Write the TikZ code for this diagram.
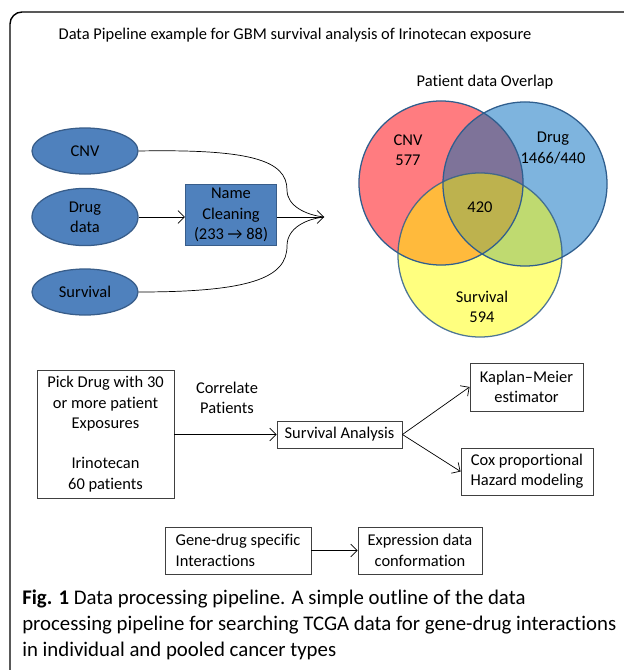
\documentclass[tikz,border=0pt]{standalone}
\usepackage{fontspec}
\setmainfont{Carlito}[Ligatures={NoCommon}]
\usepackage{xcolor}
\usetikzlibrary{positioning,arrows.meta,shapes.geometric}

\definecolor{obl}{HTML}{4F81BD}
\definecolor{obd}{HTML}{385D8A}
\definecolor{vred}{HTML}{FF7C80}
\definecolor{vblu}{HTML}{7EB4DE}
\definecolor{vyel}{HTML}{FFFF7F}
\definecolor{vpur}{HTML}{7E7399}
\definecolor{vora}{HTML}{FFBA3C}
\definecolor{vgrn}{HTML}{BFDA70}
\definecolor{voli}{HTML}{BDB24E}
\definecolor{vrim}{HTML}{2F5E8E}

\begin{document}
\begin{tikzpicture}[x=0.025cm, y=-0.025cm,
  font=\fontsize{11.7}{14.5}\selectfont, >={Straight Barb[length=1.6mm]},
  e/.style={ellipse, draw=obd, fill=obl, line width=0.9pt, minimum width=2.65cm, minimum height=1.15cm},
  b/.style={draw=black!75, line width=0.6pt, inner sep=2pt, align=center},
  a/.style={->, line width=0.5pt},
  l/.style={align=center}]
\useasboundingbox (0,0) rectangle (624,670);
\clip (0,0) rectangle (624,670);
\draw[line width=1pt, rounded corners=0.3cm] (10,12) rectangle (680,720);

\node (ttl) at (295,35) {Data Pipeline example for GBM survival analysis of Irinotecan exposure};

% left: inputs
\node[e] (cnv) at (85,151) {CNV};
\node[e, l] (dd) at (85,217) {Drug\\data};
\node[e] (sv) at (85,292) {Survival};
\node[draw=obd, fill=obl, line width=0.9pt, l, minimum width=2.275cm, minimum height=1.525cm, inner sep=1pt] (nc) at (231,215) {Name\\Cleaning\\(233 \char"2192{} 88)};
\coordinate (mg) at (324,217);
\draw[a] (dd) -- (dd -| nc.west);
\draw[a] (nc.east |- mg) -- (mg);
\draw[line width=0.5pt] (cnv.east) .. controls (250,149) and (287,160) .. (287,190) .. controls (287,206) and (306,215) .. (mg);
\draw[line width=0.5pt] (sv.east) .. controls (250,292) and (287,278) .. (287,246) .. controls (287,228) and (306,219) .. (mg);

% right: overlap
\node (vt) at (485,82) {Patient data Overlap};
\coordinate (vc) at (441,183); \coordinate (vd) at (525,184); \coordinate (vs) at (480,255);
\fill[vred] (vc) circle (2.05cm);
\fill[vblu] (vd) circle (2.05cm);
\fill[vyel] (vs) circle (2.05cm);
\begin{scope}
\clip (vd) circle (2.05cm); \fill[vgrn] (vs) circle (2.05cm);
\end{scope}
\begin{scope}
\clip (vc) circle (2.05cm); \fill[vpur] (vd) circle (2.05cm); \fill[vora] (vs) circle (2.05cm);
\clip (vd) circle (2.05cm); \fill[voli] (vs) circle (2.05cm);
\end{scope}
\draw[vrim, line width=0.9pt] (vc) circle (2.05cm) (vd) circle (2.05cm);
\draw[vrim, line width=0.9pt, draw opacity=0.85] (vs) circle (2.05cm);
\node[l] (vcn) at (408,150) {CNV\\577};
\node[l] (vdn) at (553,148) {Drug\\1466/440};
\node (vall) at (480,207) {420};
\node[l] (vsn) at (482,307) {Survival\\594};

% bottom: analysis
\node[b, minimum width=3.425cm, minimum height=3.2cm] (pk) at (105.5,434) {Pick Drug with 30\\or more patient\\Exposures\\[14pt]Irinotecan\\60 patients};
\node[l] (cp) at (227,398) {Correlate\\Patients};
\node[b, minimum width=3.125cm, minimum height=0.675cm] (sa) at (339.5,434.5) {Survival Analysis};
\node[b, minimum width=2.825cm, minimum height=1.2cm] (km) at (526.5,387) {Kaplan\char"2013{}Meier\\estimator};
\node[b, minimum width=3.3cm, minimum height=1.175cm] (cx) at (527,471.5) {Cox proportional\\Hazard modeling};
\draw[a] (pk.east |- sa) -- (sa);
\draw[a] (sa.east) -- (km.west);
\draw[a] (sa.east) -- (cx.west);

\node[b, align=left, minimum width=3.65cm, minimum height=1.175cm] (gd) at (238,550.5) {Gene-drug specific\\Interactions};
\node[b, minimum width=3.1cm, minimum height=1.175cm] (ex) at (420,550.5) {Expression data\\conformation};
\draw[a] (gd) -- (ex);

\node[anchor=north west, align=left, inner sep=0pt, font=\fontsize{14.8}{18.5}\selectfont] (cap) at (22,590) {\textbf{Fig. 1} Data processing pipeline. A simple outline of the data\\processing pipeline for searching TCGA data for gene-drug interactions\\in individual and pooled cancer types};
\end{tikzpicture}
\end{document}
